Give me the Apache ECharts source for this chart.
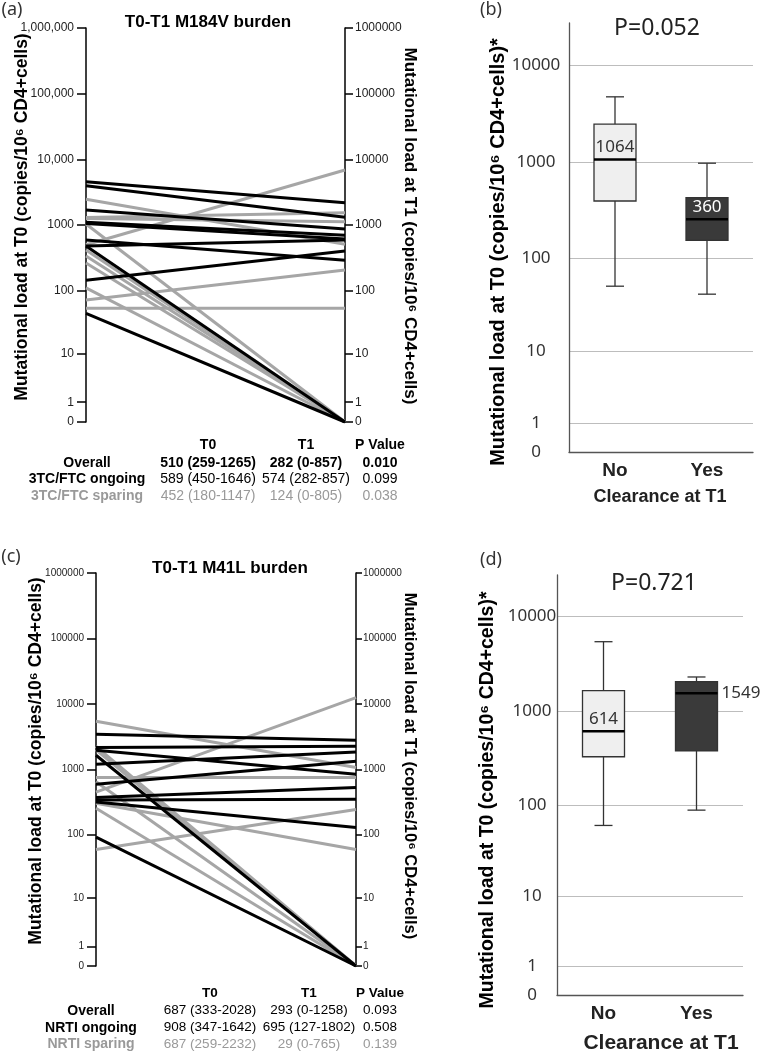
<!DOCTYPE html>
<html>
<head>
<meta charset="utf-8">
<script src="https://cdn.jsdelivr.net/npm/echarts@6/dist/echarts.min.js"></script>
<style>
  html, body { margin: 0; padding: 0; background: #fff; }
  #chart { width: 760px; height: 1064px; }
</style>
</head>
<body>
<div id="chart"></div>
<script>
// (a) M184V load per patient [T0, T1], copies/10^6 CD4+ cells
const m184vOngoing = [[4570, 2190], [3970, 1310], [1690, 870], [1100, 700], [1050, 610], [590, 290], [478, 590], [478, 0], [143, 400], [44, 0]]
const m184vSparing = [[2460, 507], [1300, 1540], [1250, 1120], [500, 6890], [1035, 0], [415, 0], [336, 0], [263, 0], [109, 0], [71, 205], [53, 53]]
// (c) M41L load per patient [T0, T1]
const m41lOngoing = [[3450, 2790], [2160, 2260], [1960, 845], [1650, 0], [1200, 1850], [594, 1335], [372, 529], [340, 350], [318, 129], [92, 0]]
const m41lSparing = [[5440, 1070], [2260, 0], [2000, 0], [752, 752], [450, 12500], [650, 0], [305, 59], [255, 0], [59, 244]]

// (b)/(d) box plots: [min, Q1, median, Q3, max]
const clearance = ['No', 'Yes']
const m184vBox = [[51, 395, 1064, 2470, 4740], [42, 154, 256, 428, 974]]
const m184vMedianLabels = ['1064', '360']
const m41lBox = [[61, 329, 614, 1650, 5430], [89, 381, 1549, 2050, 2300]]
const m41lMedianLabels = ['614', '1549']

const loadTicks = [0, 1, 10, 100, 1000, 10000, 100000, 1000000]
const boxTicks = [0, 1, 10, 100, 1000, 10000]

const tableHead = ['T0', 'T1', 'P Value']
const m184vTable = [
  ['Overall', '510 (259-1265)', '282 (0-857)', '0.010'],
  ['3TC/FTC ongoing', '589 (450-1646)', '574 (282-857)', '0.099'],
  ['3TC/FTC sparing', '452 (180-1147)', '124 (0-805)', '0.038']
]
const m41lTable = [
  ['Overall', '687 (333-2028)', '293 (0-1258)', '0.093'],
  ['NRTI ongoing', '908 (347-1642)', '695 (127-1802)', '0.508'],
  ['NRTI sparing', '687 (259-2232)', '29 (0-765)', '0.139']
]

// axis is log10(x+1) so that 0 fits below 1
const lg = v => Math.log10(v + 1)
const tickName = (ticks, commas) => val => {
  const t = ticks.find(k => Math.abs(lg(k) - val) < 1e-6)
  if (t === undefined) return ''
  return commas && t >= 10000 ? t.toLocaleString('en-US') : String(t)
}

const ARIAL = '"Liberation Sans", Arial, sans-serif'
const APTOS = '"Noto Sans", sans-serif'
const GREY = '#a6a6a6'

function loadAxis(grid, side, commas, fontSize, margin, tickLen) {
  return {
    type: 'value', gridIndex: grid, position: side, min: 0, max: lg(1000000),
    axisLine: { show: true, lineStyle: { color: '#000', width: 1.5 } },
    axisTick: { show: true, length: tickLen, customValues: loadTicks.map(lg), lineStyle: { color: '#000', width: 1.5 } },
    axisLabel: { customValues: loadTicks.map(lg), formatter: tickName(loadTicks, commas), margin: margin, fontSize: fontSize, color: '#222', fontFamily: ARIAL },
    splitLine: { show: false }
  }
}

function boxAxis(grid, margin) {
  return {
    type: 'value', gridIndex: grid, min: 0, max: 4.44,
    axisLine: { show: true, lineStyle: { color: '#555', width: 1.3 } },
    axisTick: { show: false, customValues: boxTicks.map(lg) },
    axisLabel: { customValues: boxTicks.map(lg), formatter: tickName(boxTicks, false), align: 'center', margin: margin, fontSize: 17, color: '#333', fontFamily: APTOS },
    splitLine: { show: true, lineStyle: { color: '#bdbdbd', width: 1 } }
  }
}

function catAxis(grid) {
  return {
    type: 'category', gridIndex: grid, data: clearance,
    axisLine: { show: true, lineStyle: { color: '#555', width: 1.3 } },
    axisTick: { show: false },
    axisLabel: { fontSize: 19, fontWeight: 'bold', color: '#222', fontFamily: ARIAL, margin: 9 }
  }
}

function pairLines(pairs, color, yIdx, xIdx) {
  return pairs.map(p => ({
    type: 'line', xAxisIndex: xIdx, yAxisIndex: yIdx, symbol: 'none', silent: true,
    lineStyle: { color: color, width: 3 },
    data: [[0, lg(p[0])], [1, lg(p[1])]]
  }))
}

function boxSeries(boxes, labels, xIdx, yIdx, fills, labelColors, labelPlace, labelSize) {
  return {
    type: 'custom', xAxisIndex: xIdx, yAxisIndex: yIdx, silent: true,
    encode: { x: 0, y: [1, 2, 3, 4, 5] },
    data: boxes.map((b, i) => [i].concat(b.map(lg))),
    renderItem: function (params, api) {
      const i = api.value(0)
      const p = [1, 2, 3, 4, 5].map(d => api.coord([i, api.value(d)]))
      const cx = p[0][0]
      const lo = p[0][1], q1 = p[1][1], med = p[2][1], q3 = p[3][1], hi = p[4][1]
      const hw = 21, cw = 9
      const st = { stroke: '#333', lineWidth: 1.3 }
      const right = labelPlace[i] === 'right'
      return {
        type: 'group',
        children: [
          { type: 'line', shape: { x1: cx, y1: hi, x2: cx, y2: q3 }, style: st },
          { type: 'line', shape: { x1: cx, y1: q1, x2: cx, y2: lo }, style: st },
          { type: 'line', shape: { x1: cx - cw, y1: hi, x2: cx + cw, y2: hi }, style: st },
          { type: 'line', shape: { x1: cx - cw, y1: lo, x2: cx + cw, y2: lo }, style: st },
          { type: 'rect', shape: { x: cx - hw, y: q3, width: 2 * hw, height: q1 - q3 }, style: { fill: fills[i], stroke: '#333', lineWidth: 1.3 } },
          { type: 'line', shape: { x1: cx - hw, y1: med, x2: cx + hw, y2: med }, style: { stroke: '#000', lineWidth: 2.5 } },
          {
            type: 'text',
            x: right ? cx + hw + 4 : cx,
            y: right ? med : med - 12,
            style: {
              text: labels[i], fill: labelColors[i], font: labelSize + 'px ' + APTOS,
              align: right ? 'left' : 'center', verticalAlign: 'middle',
              textAlign: right ? 'left' : 'center', textVerticalAlign: 'middle'
            }
          }
        ]
      }
    }
  }
}

function txt(text, x, y, font, opts) {
  opts = opts || {}
  return {
    type: 'text', x: x, y: y, rotation: opts.rot || 0, silent: true,
    style: {
      text: text, font: font, fill: opts.color || '#000',
      align: opts.align || 'center', verticalAlign: 'middle',
      textAlign: opts.align || 'center', textVerticalAlign: 'middle'
    }
  }
}

function table(rows, cols, ys, labelFont, valueFont, boldFirstRow) {
  const out = []
  tableHead.forEach((h, j) => out.push(txt(h, cols[j + 1], ys[0], 'bold ' + valueFont + 'px ' + ARIAL)))
  rows.forEach((r, i) => {
    const color = i === 2 ? '#999' : '#000'
    const y = ys[i + 1]
    out.push(txt(r[0], cols[0], y, 'bold ' + labelFont + 'px ' + ARIAL, { color: color }))
    for (let j = 1; j < 4; j++) {
      const w = boldFirstRow && i === 0 ? 'bold ' : ''
      out.push(txt(r[j], cols[j], y, w + valueFont + 'px ' + ARIAL, { color: color }))
    }
  })
  return out
}

const nameT0 = 'Mutational load at T0 (copies/10\u2076 CD4+cells)'
const nameT1 = 'Mutational load at T1 (copies/10\u2076 CD4+cells)'
const UP = Math.PI / 2

const graphics = [
  txt('(a)', 12, 10, '18px ' + APTOS, { color: '#333' }),
  txt('(b)', 491, 10, '18px ' + APTOS, { color: '#333' }),
  txt('(c)', 11, 557, '18px ' + APTOS, { color: '#333' }),
  txt('(d)', 491, 560, '18px ' + APTOS, { color: '#333' }),
  txt('T0-T1 M184V burden', 208, 22, 'bold 17px ' + ARIAL),
  txt('T0-T1 M41L burden', 230, 568, 'bold 17px ' + ARIAL),
  txt(nameT0, 22, 217, 'bold 17.5px ' + ARIAL, { rot: UP }),
  txt(nameT1, 410, 226, 'bold 17px ' + ARIAL, { rot: -UP }),
  txt(nameT0, 36, 761, 'bold 17.5px ' + ARIAL, { rot: UP }),
  txt(nameT1, 410, 766, 'bold 16.5px ' + ARIAL, { rot: -UP }),
  txt('P=0.052', 657, 28, '23px ' + APTOS, { color: '#222' }),
  txt('P=0.721', 654, 583, '23px ' + APTOS, { color: '#222' }),
  txt(nameT0 + '*', 498, 252, 'bold 20px ' + ARIAL, { rot: UP }),
  txt(nameT0 + '*', 488, 800, 'bold 19.5px ' + ARIAL, { rot: UP }),
  txt('Clearance at T1', 660, 497, 'bold 18px ' + ARIAL, { color: '#222' }),
  txt('Clearance at T1', 661, 1043, 'bold 21px ' + ARIAL, { color: '#222' })
].concat(
  table(m184vTable, [87, 208, 306, 380], [445, 462.7, 479, 496], 14, 14, true),
  table(m41lTable, [91, 210, 309, 380], [993, 1010.7, 1027.7, 1044], 14, 13.5, false)
)

const chart = echarts.init(document.getElementById('chart'))
const option = {
  animation: false,
  backgroundColor: '#fff',
  grid: [
    { left: 86, top: 28, width: 259, height: 394, containLabel: false, outerBoundsMode: 'none' },
    { left: 569, top: 23, width: 184, height: 429, containLabel: false, outerBoundsMode: 'none' },
    { left: 96, top: 573, width: 260, height: 393, containLabel: false, outerBoundsMode: 'none' },
    { left: 557, top: 575, width: 186, height: 420, containLabel: false, outerBoundsMode: 'none' }
  ],
  xAxis: [
    { type: 'value', gridIndex: 0, min: 0, max: 1, show: false },
    catAxis(1),
    { type: 'value', gridIndex: 2, min: 0, max: 1, show: false },
    catAxis(3)
  ],
  yAxis: [
    loadAxis(0, 'left', true, 12, 12, 9),
    loadAxis(0, 'right', false, 12, 10, 8),
    boxAxis(1, 33),
    loadAxis(2, 'left', false, 10, 12, 9),
    loadAxis(2, 'right', false, 10, 7, 6),
    boxAxis(3, 25)
  ],
  series: [].concat(
    pairLines(m184vSparing, GREY, 0, 0),
    pairLines(m184vOngoing, '#000', 0, 0),
    pairLines(m41lSparing, GREY, 3, 2),
    pairLines(m41lOngoing, '#000', 3, 2),
    [
      boxSeries(m184vBox, m184vMedianLabels, 1, 2, ['#efefef', '#3a3a3a'], ['#333', '#fff'], ['top', 'top'], 17),
      boxSeries(m41lBox, m41lMedianLabels, 3, 5, ['#efefef', '#3a3a3a'], ['#333', '#333'], ['top', 'right'], 17)
    ]
  ),
  graphic: graphics
}
chart.setOption(option)
window.onresize = function () {
  chart.resize()
}
</script>
</body>
</html>
